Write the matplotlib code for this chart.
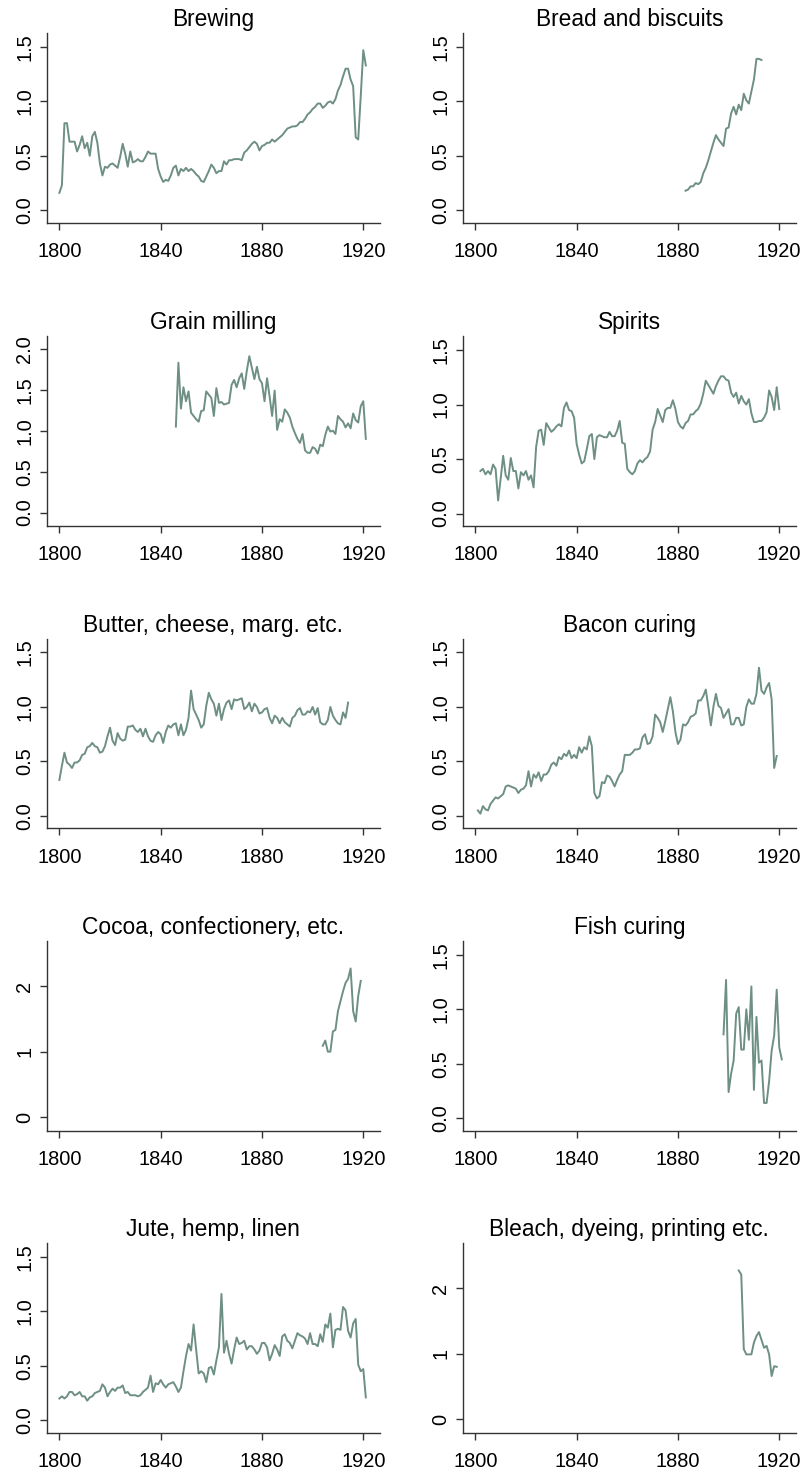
import matplotlib
matplotlib.use("Agg")
from matplotlib import pyplot as plt

plt.rcParams['font.family'] = ['Liberation Sans', 'DejaVu Sans']

# ---- data ----
brewing_start = 1800
brewing = [0.16, 0.23, 0.80, 0.80, 0.63, 0.63, 0.63, 0.54, 0.60, 0.68,
           0.57, 0.62, 0.50, 0.68, 0.72, 0.62, 0.43, 0.32, 0.40, 0.39,
           0.42, 0.43, 0.41, 0.39, 0.49, 0.61, 0.52, 0.40, 0.54, 0.44,
           0.45, 0.47, 0.45, 0.45, 0.49, 0.54, 0.52, 0.52, 0.52, 0.38,
           0.31, 0.26, 0.28, 0.27, 0.32, 0.39, 0.41, 0.32, 0.38, 0.36,
           0.39, 0.36, 0.38, 0.36, 0.33, 0.31, 0.27, 0.26, 0.31, 0.36,
           0.42, 0.39, 0.34, 0.36, 0.36, 0.45, 0.42, 0.46, 0.46, 0.47,
           0.47, 0.47, 0.46, 0.53, 0.55, 0.58, 0.61, 0.63, 0.61, 0.55,
           0.59, 0.60, 0.62, 0.62, 0.65, 0.63, 0.65, 0.67, 0.69, 0.72,
           0.75, 0.76, 0.77, 0.77, 0.78, 0.81, 0.81, 0.84, 0.88, 0.90,
           0.93, 0.95, 0.98, 0.98, 0.94, 0.96, 0.99, 1.00, 0.98, 1.02,
           1.10, 1.15, 1.23, 1.30, 1.30, 1.20, 1.14, 0.67, 0.65, 1.05,
           1.47, 1.33]

bread_start = 1883
bread = [0.18, 0.19, 0.22, 0.22, 0.25, 0.24, 0.26, 0.34, 0.39, 0.46,
         0.54, 0.62, 0.69, 0.65, 0.62, 0.59, 0.75, 0.76, 0.89, 0.95,
         0.88, 0.97, 0.92, 1.07, 1.01, 0.98, 1.09, 1.20, 1.39, 1.39,
         1.38]

grain_start = 1846
grain = [1.05, 1.83, 1.27, 1.53, 1.36, 1.48, 1.22, 1.18, 1.14, 1.11,
         1.24, 1.25, 1.48, 1.44, 1.40, 1.18, 1.52, 1.34, 1.35, 1.32,
         1.33, 1.34, 1.56, 1.62, 1.53, 1.64, 1.70, 1.51, 1.73, 1.91,
         1.77, 1.63, 1.78, 1.63, 1.58, 1.36, 1.64, 1.42, 1.18, 1.49,
         1.01, 1.14, 1.11, 1.26, 1.22, 1.16, 1.05, 0.97, 0.90, 0.85,
         0.96, 0.76, 0.73, 0.73, 0.80, 0.78, 0.72, 0.83, 0.81, 0.95,
         1.05, 0.99, 1.00, 0.96, 1.18, 1.14, 1.11, 1.04, 1.09, 1.03,
         1.21, 1.13, 1.10, 1.30, 1.36, 0.90]

spirits_start = 1802
spirits = [0.39, 0.41, 0.36, 0.39, 0.36, 0.45, 0.41, 0.12, 0.32, 0.53,
           0.35, 0.31, 0.51, 0.39, 0.39, 0.23, 0.38, 0.35, 0.39, 0.31,
           0.35, 0.24, 0.61, 0.76, 0.77, 0.63, 0.83, 0.79, 0.75, 0.77,
           0.80, 0.82, 0.80, 0.97, 1.02, 0.95, 0.94, 0.88, 0.64, 0.54,
           0.46, 0.48, 0.59, 0.71, 0.73, 0.50, 0.70, 0.72, 0.71, 0.70,
           0.70, 0.75, 0.71, 0.71, 0.76, 0.85, 0.65, 0.64, 0.41, 0.38,
           0.36, 0.39, 0.46, 0.49, 0.47, 0.50, 0.52, 0.57, 0.77, 0.84,
           0.96, 0.90, 0.84, 0.95, 0.97, 0.97, 1.04, 0.96, 0.84, 0.80,
           0.78, 0.83, 0.85, 0.91, 0.91, 0.94, 0.96, 1.01, 1.10, 1.22,
           1.18, 1.14, 1.10, 1.17, 1.22, 1.26, 1.26, 1.23, 1.22, 1.11,
           1.07, 1.11, 1.01, 1.08, 1.03, 1.00, 1.05, 0.92, 0.84, 0.84,
           0.85, 0.85, 0.88, 0.93, 1.13, 1.07, 0.95, 1.16, 0.96]

butter_start = 1800
butter = [0.33, 0.46, 0.58, 0.49, 0.47, 0.44, 0.49, 0.49, 0.51, 0.56,
          0.57, 0.63, 0.64, 0.67, 0.64, 0.63, 0.58, 0.59, 0.64, 0.73,
          0.81, 0.69, 0.65, 0.76, 0.71, 0.69, 0.70, 0.82, 0.82, 0.83,
          0.79, 0.77, 0.80, 0.73, 0.80, 0.73, 0.69, 0.68, 0.74, 0.77,
          0.75, 0.67, 0.77, 0.83, 0.81, 0.84, 0.85, 0.74, 0.84, 0.74,
          0.79, 0.90, 1.15, 0.98, 0.93, 0.88, 0.81, 0.84, 1.01, 1.13,
          1.07, 1.03, 0.92, 1.03, 0.88, 0.98, 1.04, 1.06, 0.98, 1.07,
          1.06, 1.07, 1.08, 0.98, 1.00, 1.04, 0.96, 1.03, 1.00, 0.94,
          0.95, 0.98, 0.99, 0.90, 0.85, 0.92, 0.90, 0.85, 0.90, 0.86,
          0.84, 0.82, 0.90, 0.92, 0.97, 0.99, 0.93, 0.93, 0.96, 0.95,
          1.00, 0.93, 0.99, 0.86, 0.84, 0.84, 0.88, 1.00, 0.92, 0.88,
          0.85, 0.84, 0.95, 0.90, 1.04]

bacon_start = 1801
bacon = [0.05, 0.02, 0.09, 0.06, 0.05, 0.11, 0.14, 0.17, 0.16, 0.18,
         0.20, 0.27, 0.28, 0.27, 0.26, 0.25, 0.21, 0.24, 0.25, 0.28,
         0.41, 0.27, 0.38, 0.35, 0.40, 0.32, 0.38, 0.38, 0.41, 0.47,
         0.49, 0.46, 0.54, 0.52, 0.57, 0.55, 0.60, 0.53, 0.56, 0.53,
         0.63, 0.58, 0.63, 0.61, 0.73, 0.64, 0.21, 0.16, 0.18, 0.31,
         0.30, 0.37, 0.36, 0.32, 0.27, 0.33, 0.38, 0.41, 0.56, 0.56,
         0.56, 0.58, 0.61, 0.61, 0.62, 0.72, 0.75, 0.66, 0.67, 0.73,
         0.93, 0.90, 0.86, 0.77, 0.87, 0.98, 1.09, 0.96, 0.77, 0.66,
         0.70, 0.84, 0.83, 0.86, 0.91, 0.92, 0.94, 1.06, 1.06, 1.10,
         1.16, 1.00, 0.83, 1.00, 1.12, 1.01, 0.99, 0.90, 0.94, 0.98,
         0.84, 0.84, 0.90, 0.90, 0.83, 0.84, 1.00, 1.07, 1.03, 1.03,
         1.12, 1.36, 1.15, 1.12, 1.18, 1.22, 1.07, 0.44, 0.55]

cocoa_start = 1904
cocoa = [1.09, 1.17, 1.00, 1.00, 1.31, 1.33, 1.62, 1.77, 1.92, 2.05,
         2.11, 2.27, 1.62, 1.46, 1.85, 2.08]

fish_start = 1898
fish = [0.77, 1.27, 0.24, 0.41, 0.53, 0.96, 1.02, 0.63, 0.63, 1.00,
        0.72, 1.21, 0.26, 0.93, 0.51, 0.53, 0.14, 0.14, 0.34, 0.62,
        0.76, 1.18, 0.65, 0.54]

jute_start = 1800
jute = [0.20, 0.22, 0.20, 0.22, 0.26, 0.26, 0.23, 0.24, 0.26, 0.22,
        0.22, 0.18, 0.21, 0.22, 0.25, 0.26, 0.27, 0.33, 0.30, 0.22,
        0.26, 0.29, 0.27, 0.30, 0.30, 0.32, 0.25, 0.26, 0.23, 0.23,
        0.23, 0.22, 0.23, 0.26, 0.28, 0.30, 0.41, 0.26, 0.34, 0.33,
        0.37, 0.33, 0.30, 0.33, 0.34, 0.35, 0.31, 0.26, 0.30, 0.45,
        0.59, 0.70, 0.64, 0.88, 0.65, 0.43, 0.45, 0.43, 0.35, 0.48,
        0.49, 0.42, 0.55, 0.67, 1.16, 0.62, 0.73, 0.61, 0.52, 0.65,
        0.76, 0.70, 0.71, 0.73, 0.65, 0.68, 0.68, 0.65, 0.61, 0.64,
        0.71, 0.71, 0.67, 0.55, 0.61, 0.69, 0.65, 0.59, 0.77, 0.79,
        0.73, 0.71, 0.66, 0.73, 0.80, 0.78, 0.77, 0.75, 0.70, 0.80,
        0.70, 0.70, 0.68, 0.79, 0.72, 0.88, 0.85, 0.98, 0.67, 0.83,
        0.84, 0.83, 1.04, 1.01, 0.82, 0.76, 0.89, 0.93, 0.51, 0.45,
        0.47, 0.21]

bleach_start = 1904
bleach = [2.27, 2.21, 1.07, 0.99, 0.99, 0.99, 1.17, 1.27, 1.33, 1.21,
          1.09, 1.12, 0.99, 0.66, 0.81, 0.80]

titles = ['Brewing', 'Bread and biscuits', 'Grain milling', 'Spirits',
          'Butter, cheese, marg. etc.', 'Bacon curing',
          'Cocoa, confectionery, etc.', 'Fish curing',
          'Jute, hemp, linen', 'Bleach, dyeing, printing etc.']
series = [(brewing_start, brewing), (bread_start, bread),
          (grain_start, grain), (spirits_start, spirits),
          (butter_start, butter), (bacon_start, bacon),
          (cocoa_start, cocoa), (fish_start, fish),
          (jute_start, jute), (bleach_start, bleach)]

x_ticks = [1800, 1840, 1880, 1920]
y_ticks_a = [0.0, 0.5, 1.0, 1.5]
y_ticks_b = [0.0, 0.5, 1.0, 1.5, 2.0]
y_ticks_c = [0, 1, 2]

line_color = '#6e8f83'
axis_color = '#333333'

fig = plt.figure(figsize=(8.08, 14.72), dpi=100)

lefts = [0.0578, 0.5726]
bottoms = [0.8487, 0.6427, 0.4373, 0.2319, 0.0267]
w, h = 0.4125, 0.1289

for i, (title, (start, vals)) in enumerate(zip(titles, series)):
    row, col = divmod(i, 2)
    ax = fig.add_axes([lefts[col], bottoms[row], w, h])
    years = list(range(start, start + len(vals)))
    ax.plot(years, vals, color=line_color, lw=1.4)

    if title == 'Grain milling':
        ax.set_ylim(-0.163, 2.154)
        ax.set_yticks(y_ticks_b)
        ax.set_yticklabels(['%.1f' % t for t in y_ticks_b])
    elif title in ('Cocoa, confectionery, etc.', 'Bleach, dyeing, printing etc.'):
        ax.set_ylim(-0.205, 2.69)
        ax.set_yticks(y_ticks_c)
        ax.set_yticklabels([str(t) for t in y_ticks_c])
    else:
        ax.set_ylim(-0.114, 1.628)
        ax.set_yticks(y_ticks_a)
        ax.set_yticklabels(['%.1f' % t for t in y_ticks_a])

    ax.set_xlim(1795, 1926.6)
    ax.set_xticks(x_ticks)
    ax.set_title(title, fontsize=16.4, pad=5)

    for s in ['top', 'right']:
        ax.spines[s].set_visible(False)
    for s in ['left', 'bottom']:
        ax.spines[s].set_color(axis_color)
        ax.spines[s].set_linewidth(1.0)
    ax.tick_params(axis='both', direction='out', length=5, width=1.0,
                   color=axis_color, labelsize=14.4)
    ax.tick_params(axis='x', pad=9)
    ax.tick_params(axis='y', pad=4)
    for lab in ax.get_yticklabels():
        lab.set_rotation(90)
        lab.set_va('center')

fig.savefig('out.png', dpi=100)
